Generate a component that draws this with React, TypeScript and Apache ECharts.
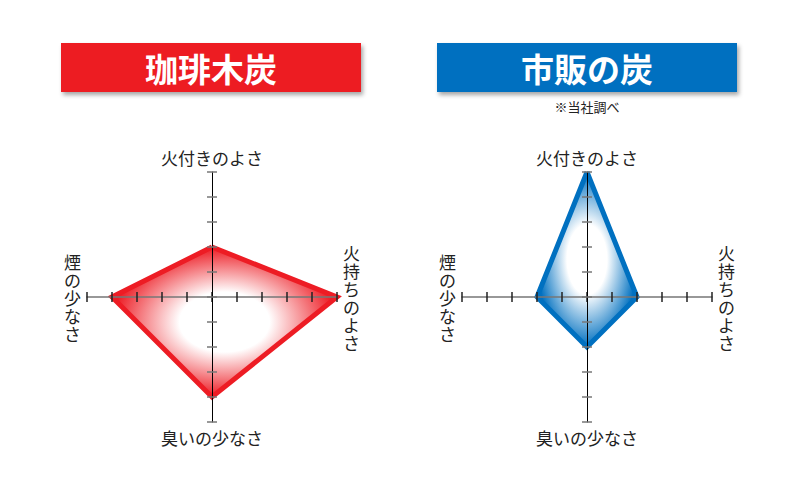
import React, { useEffect, useRef } from "react";
import * as echarts from "echarts";

// Indicators listed counter-clockwise from the top (ECharts radar order)
const indicatorNames = ["火付きのよさ", "煙の少なさ", "臭いの少なさ", "火持ちのよさ"];
const verticalNames = ["煙の少なさ", "火持ちのよさ"];
const coffeeValues = [2, 4, 4, 5];
const marketValues = [5, 2, 2, 2];
const maxValue = 5;
const titleLeft = "珈琲木炭";
const titleRight = "市販の炭";
const noteText = "※当社調べ";

const FONT = "'Noto Sans CJK JP', 'Noto Sans', sans-serif";
const RED = "#ED1C24";
const BLUE = "#0070C0";
const CENTER_Y = 297;
const RADIUS = 125;
const CENTERS = [212, 587];

function grad(color: string) {
  return {
    type: "radial",
    x: 0.5,
    y: 0.5,
    r: 0.5,
    colorStops: [
      { offset: 0, color: "#ffffff" },
      { offset: 0.4, color: "#ffffff" },
      { offset: 1, color: color },
    ],
  };
}

function mainRadar(cx: number) {
  return {
    center: [cx, CENTER_Y],
    radius: RADIUS,
    startAngle: 90,
    splitNumber: 5,
    shape: "polygon",
    indicator: indicatorNames.map((n) => ({ name: n, min: 0, max: maxValue })),
    axisName: {
      color: "#222",
      fontSize: 17,
      lineHeight: 18,
      fontFamily: FONT,
      formatter: (name: string) =>
        verticalNames.includes(name) ? name.split("").join("\n") : name,
    },
    nameGap: 6,
    axisLine: { show: false },
    axisTick: { show: false },
    splitLine: { show: false },
    splitArea: { show: false },
  };
}

// Cross-hair axes with ticks on both sides, drawn in a cartesian grid over each radar
const grids = CENTERS.map((cx) => ({
  left: cx - RADIUS,
  top: CENTER_Y - RADIUS,
  width: RADIUS * 2,
  height: RADIUS * 2,
  containLabel: false,
}));

function xAx(gridIndex: number, position: string, showLine: boolean) {
  return {
    type: "value",
    gridIndex,
    position,
    min: -maxValue,
    max: maxValue,
    interval: 1,
    z: 5,
    axisLine: { show: showLine, onZero: true, lineStyle: { color: "#777", width: 1.6 } },
    axisTick: { show: true, inside: false, length: 5, lineStyle: { color: "#222", width: 1.5 } },
    axisLabel: { show: false },
    splitLine: { show: false },
  };
}
function yAx(gridIndex: number, position: string, showLine: boolean) {
  return {
    type: "value",
    gridIndex,
    position,
    min: -maxValue,
    max: maxValue,
    interval: 1,
    z: 6,
    axisLine: { show: showLine, onZero: true, lineStyle: { color: "#000", width: 1 } },
    axisTick: { show: true, inside: false, length: 5, lineStyle: { color: "#777", width: 1.5 } },
    axisLabel: { show: false },
    splitLine: { show: false },
  };
}

function banner(x: number, color: string, text: string) {
  return [
    {
      type: "rect",
      shape: { x, y: 43, width: 300, height: 49 },
      style: {
        fill: color,
        shadowBlur: 4,
        shadowOffsetX: 2,
        shadowOffsetY: 3,
        shadowColor: "rgba(0,0,0,0.35)",
      },
      z: 1,
    },
    {
      type: "text",
      x: x + 150,
      y: 68,
      style: {
        text,
        fill: "#fff",
        font: `bold 33px ${FONT}`,
        textAlign: "center",
        textVerticalAlign: "middle",
      },
      z: 2,
    },
  ];
}

function areaSeries(radarIndex: number, values: number[], color: string, name: string) {
  return {
    type: "radar",
    radarIndex,
    symbol: "none",
    z: 2,
    lineStyle: { width: 0, opacity: 0 },
    areaStyle: { color: grad(color), opacity: 1 },
    data: [{ value: values, name }],
  };
}
function lineSeries(radarIndex: number, values: number[], color: string, name: string) {
  return {
    type: "radar",
    radarIndex,
    symbol: "none",
    z: 3,
    lineStyle: { color, width: 5, join: "miter" },
    data: [{ value: values, name }],
  };
}

export default function App() {
  const ref = useRef<HTMLDivElement>(null);
  useEffect(() => {
    if (!ref.current) return;
    const chart = echarts.init(ref.current, undefined, { renderer: "svg" });
    chart.setOption({
      animation: false,
      backgroundColor: "#fff",
      grid: grids,
      xAxis: [
        xAx(0, "bottom", true),
        xAx(0, "top", false),
        xAx(1, "bottom", true),
        xAx(1, "top", false),
      ],
      yAxis: [
        yAx(0, "left", true),
        yAx(0, "right", false),
        yAx(1, "left", true),
        yAx(1, "right", false),
      ],
      radar: [mainRadar(CENTERS[0]), mainRadar(CENTERS[1])],
      series: [
        areaSeries(0, coffeeValues, RED, titleLeft),
        lineSeries(0, coffeeValues, RED, titleLeft),
        areaSeries(1, marketValues, BLUE, titleRight),
        lineSeries(1, marketValues, BLUE, titleRight),
      ],
      graphic: [
        ...banner(61, RED, titleLeft),
        ...banner(437, BLUE, titleRight),
        {
          type: "text",
          x: 587,
          y: 106,
          style: {
            text: noteText,
            fill: "#222",
            font: `13px ${FONT}`,
            textAlign: "center",
            textVerticalAlign: "middle",
          },
        },
      ],
    });
    return () => chart.dispose();
  }, []);
  return (
    <div
      ref={ref}
      style={{ position: "fixed", left: 0, top: 0, width: 800, height: 480 }}
    />
  );
}
